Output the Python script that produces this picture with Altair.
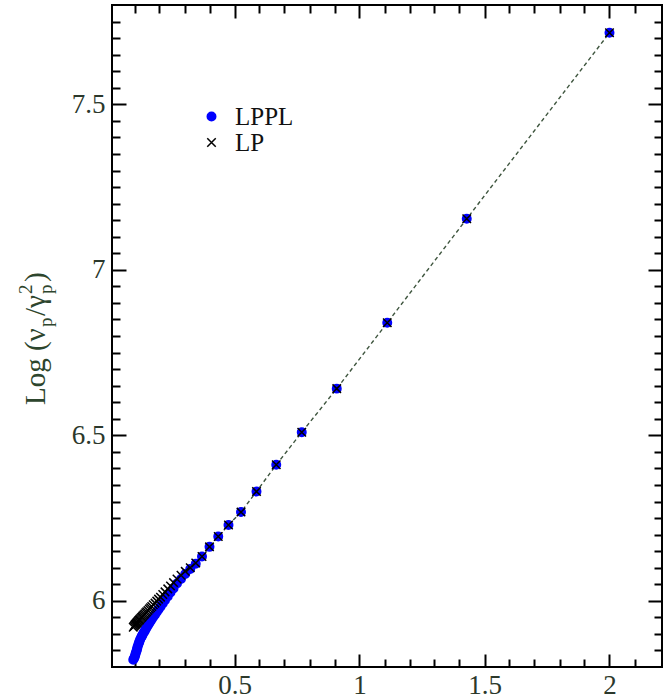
import altair as alt
import pandas as pd

# Shared abscissae of both series
x_vals = [2.0, 1.429, 1.111, 0.909, 0.769, 0.667, 0.588, 0.526, 0.476, 0.435,
          0.400, 0.370, 0.345, 0.323, 0.303, 0.286, 0.270, 0.256, 0.244, 0.233,
          0.222, 0.213, 0.204, 0.196, 0.189, 0.182, 0.175, 0.169, 0.164, 0.159,
          0.154, 0.149, 0.145, 0.141, 0.137, 0.133, 0.130, 0.127, 0.123, 0.120,
          0.118, 0.115, 0.112, 0.110, 0.108, 0.105, 0.103, 0.101, 0.098, 0.095]

# LP values (crosses, joined by the dashed curve)
lp_vals = [7.716, 7.154, 6.840, 6.641, 6.509, 6.411, 6.330, 6.268, 6.229, 6.194,
           6.163, 6.134, 6.114, 6.100, 6.089, 6.077, 6.066, 6.055, 6.045, 6.036,
           6.027, 6.019, 6.011, 6.005, 5.999, 5.993, 5.988, 5.983, 5.979, 5.975,
           5.971, 5.967, 5.964, 5.960, 5.957, 5.954, 5.951, 5.949, 5.946, 5.943,
           5.941, 5.939, 5.936, 5.934, 5.932, 5.930, 5.928, 5.926, 5.923, 5.920]

# LPPL values (blue dots)
lppl_vals = [7.716, 7.154, 6.840, 6.641, 6.509, 6.411, 6.330, 6.268, 6.229, 6.194,
             6.163, 6.134, 6.112, 6.096, 6.081, 6.066, 6.052, 6.037, 6.025, 6.013,
             6.002, 5.992, 5.982, 5.974, 5.966, 5.958, 5.951, 5.944, 5.938, 5.932,
             5.926, 5.920, 5.915, 5.909, 5.904, 5.899, 5.894, 5.890, 5.884, 5.878,
             5.873, 5.867, 5.860, 5.854, 5.848, 5.842, 5.836, 5.831, 5.826, 5.822]

series_names = ["LPPL", "LP"]
series_colors = ["#0000ff", "#000000"]
series_shapes = ["circle", "M-1,-1L1,1M-1,1L1,-1"]

x_major = [0.5, 1.0, 1.5, 2.0]
x_minor = [0.1, 0.2, 0.3, 0.4, 0.6, 0.7, 0.8, 0.9, 1.1, 1.2, 1.3, 1.4,
           1.6, 1.7, 1.8, 1.9, 2.1]
y_major = [6.0, 6.5, 7.0, 7.5]
y_minor = [5.85, 5.9, 5.95, 6.05, 6.1, 6.15, 6.2, 6.25, 6.3, 6.35, 6.4, 6.45,
           6.55, 6.6, 6.65, 6.7, 6.75, 6.8, 6.85, 6.9, 6.95,
           7.05, 7.1, 7.15, 7.2, 7.25, 7.3, 7.35, 7.4, 7.45,
           7.55, 7.6, 7.65, 7.7, 7.75]

W, H = 550, 662
FONT = "Liberation Serif, Times New Roman, serif"
LABEL_COLOR = "#2b382b"
TITLE_COLOR = "#2d452d"

points = pd.concat([
    pd.DataFrame({"x": x_vals, "y": lppl_vals, "series": "LPPL"}),
    pd.DataFrame({"x": x_vals, "y": lp_vals, "series": "LP"}),
], ignore_index=True)
lp_line = pd.DataFrame({"x": x_vals, "y": lp_vals})

xs = alt.Scale(domain=[0.01, 2.21], nice=False, zero=False)
ys = alt.Scale(domain=[5.8, 7.8], nice=False, zero=False)


def inward(orient, values, size, **kw):
    """Axis whose ticks point into the plot box."""
    return alt.Axis(orient=orient, values=values, tickSize=size, offset=-size,
                    domain=False, grid=False, title=None, tickColor="black",
                    tickWidth=2, **kw)


def label_opts():
    return dict(labels=True, format="~g", labelFont=FONT, labelFontSize=27,
                labelColor=LABEL_COLOR)


def no_labels():
    return dict(labels=False)


# dashed curve through LP, carries the labelled major ticks
line = alt.Chart(lp_line).mark_line(
    color="#3e553e", strokeDash=[4, 3], strokeWidth=1.4
).encode(
    x=alt.X("x:Q", scale=xs, axis=inward("bottom", x_major, 13, labelPadding=5, **label_opts())),
    y=alt.Y("y:Q", scale=ys, axis=inward("left", y_major, 14, labelPadding=7, **label_opts())),
)

# the two series, LP crosses drawn above LPPL dots
pts = alt.Chart(points).mark_point(filled=True, size=72, strokeWidth=1.5, opacity=1).encode(
    x=alt.X("x:Q", scale=xs, axis=inward("bottom", x_minor, 8, **no_labels())),
    y=alt.Y("y:Q", scale=ys, axis=inward("left", y_minor, 8, **no_labels())),
    color=alt.Color("series:N", title=None,
                    scale=alt.Scale(domain=series_names, range=series_colors)),
    stroke=alt.Stroke("series:N", title=None,
                      scale=alt.Scale(domain=series_names, range=series_colors)),
    shape=alt.Shape("series:N", title=None,
                    scale=alt.Scale(domain=series_names, range=series_shapes)),
)

# mirrored ticks on the top and right edges
top_major = alt.Chart(lp_line).mark_line(opacity=0).encode(
    x=alt.X("x:Q", scale=xs, axis=inward("top", x_major, 13, **no_labels())),
    y=alt.Y("y:Q", scale=ys, axis=inward("right", y_major, 14, **no_labels())),
)
top_minor = alt.Chart(lp_line).mark_line(opacity=0).encode(
    x=alt.X("x:Q", scale=xs, axis=inward("top", x_minor, 8, **no_labels())),
    y=alt.Y("y:Q", scale=ys, axis=inward("right", y_minor, 8, **no_labels())),
)

# y-axis title built from pieces: Log (ν_p / γ_p^2)
one = pd.DataFrame({"k": [0]})
TX = -67


def title_piece(text, dx, y, size):
    return alt.Chart(one).mark_text(
        angle=270, align="left", baseline="alphabetic", font=FONT,
        fontSize=size, color=TITLE_COLOR
    ).encode(x=alt.value(TX + dx), y=alt.value(y), text=alt.value(text))


title_layers = [
    title_piece("Log (ν", 0, 400, 29),
    title_piece("p", 7, 322, 19),
    title_piece("/γ", 0, 311, 29),
    title_piece("2", -13, 289, 19),
    title_piece("p", 7, 289, 19),
    title_piece(")", 0, 277, 29),
]

chart = alt.layer(line, pts, top_major, top_minor, *title_layers).resolve_axis(
    x="independent", y="independent"
).properties(
    width=W, height=H,
    autosize=alt.AutoSizeParams(type="none"),
    padding={"left": 112, "top": 5, "right": 7, "bottom": 33},
).configure_view(
    stroke="black", strokeWidth=2
).configure_legend(
    orient="none", legendX=87, legendY=99, padding=0,
    labelFont=FONT, labelFontSize=25, labelColor="#111111",
    labelOffset=11, rowPadding=0, symbolSize=72, symbolStrokeWidth=1.5,
)

chart.save("out.html", embed_options={"renderer": "svg", "actions": False})
